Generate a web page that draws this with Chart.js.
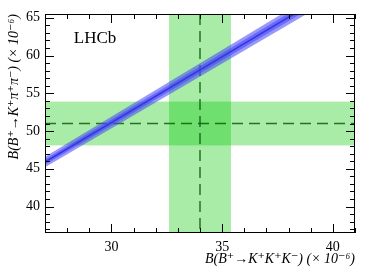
<!DOCTYPE html>
<html lang="en">
<head>
<meta charset="UTF-8" />
<title>LHCb - B+ branching fractions</title>
<script src="https://cdn.jsdelivr.net/npm/chart.js"></script>
<style>
  html, body { margin: 0; padding: 0; background: #fff; }
</style>
</head>
<body>
<canvas id="chart" width="374" height="268"></canvas>
<script>
// values in units of 10^-6
const kkk = [34.0, 1.4];              // B(B+ -> K+K+K-): value, error
const kpipi = [51.0, 2.9];            // B(B+ -> K+pi+pi-): value, error
const xRange = [27, 41];
const yRange = [36.5, 65.5];
const lineY = [45.9, 70.3];           // ratio constraint at the two ends of the x range
const bandErr = [0.008, 0.015];       // relative width: inner band, outer band
const xTicks = [30, 35, 40];
const yTicks = [40, 45, 50, 55, 60, 65];
const label = 'LHCb';
const labelAt = [28.3, 61.7];

const serif = "'Liberation Serif', 'DejaVu Serif', serif";

function ratioLine(scale) {
  return xRange.map((x, i) => ({ x: x, y: lineY[i] * scale }));
}

const bands = {
  id: 'bands',
  beforeDatasetsDraw(chart) {
    const { ctx, chartArea: a, scales: { x, y } } = chart;
    ctx.save();
    ctx.beginPath();
    ctx.rect(a.left, a.top, a.right - a.left, a.bottom - a.top);
    ctx.clip();
    ctx.fillStyle = 'rgba(0, 200, 0, 0.34)';
    // vertical band: K+K+K-
    const x0 = x.getPixelForValue(kkk[0] - kkk[1]);
    const x1 = x.getPixelForValue(kkk[0] + kkk[1]);
    ctx.fillRect(x0, a.top, x1 - x0, a.bottom - a.top);
    // horizontal band: K+pi+pi-
    const y0 = y.getPixelForValue(kpipi[0] + kpipi[1]);
    const y1 = y.getPixelForValue(kpipi[0] - kpipi[1]);
    ctx.fillRect(a.left, y0, a.right - a.left, y1 - y0);
    // central values, dashed
    ctx.strokeStyle = 'rgba(10, 95, 10, 0.85)';
    ctx.lineWidth = 1.5;
    ctx.setLineDash([11, 6]);
    const xc = x.getPixelForValue(kkk[0]);
    ctx.beginPath();
    ctx.moveTo(xc, a.top);
    ctx.lineTo(xc, a.bottom);
    ctx.stroke();
    const yc = y.getPixelForValue(kpipi[0]);
    ctx.beginPath();
    ctx.moveTo(a.left, yc);
    ctx.lineTo(a.right, yc);
    ctx.stroke();
    ctx.restore();
  }
};

const frame = {
  id: 'frame',
  afterDraw(chart) {
    const { ctx, chartArea: a, scales: { x, y } } = chart;
    ctx.save();
    ctx.strokeStyle = '#000';
    ctx.lineWidth = 1;
    ctx.strokeRect(a.left + 0.5, a.top + 0.5, a.right - a.left - 1, a.bottom - a.top - 1);
    ctx.beginPath();
    for (let v = Math.ceil(xRange[0]); v <= xRange[1]; v++) {
      const len = xTicks.includes(v) ? 9 : 5;
      const px = Math.round(x.getPixelForValue(v)) + 0.5;
      ctx.moveTo(px, a.bottom); ctx.lineTo(px, a.bottom - len);
      ctx.moveTo(px, a.top); ctx.lineTo(px, a.top + len);
    }
    for (let v = Math.ceil(yRange[0]); v <= yRange[1]; v++) {
      const len = yTicks.includes(v) ? 9 : 5;
      const py = Math.round(y.getPixelForValue(v)) + 0.5;
      ctx.moveTo(a.left, py); ctx.lineTo(a.left + len, py);
      ctx.moveTo(a.right, py); ctx.lineTo(a.right - len, py);
    }
    ctx.stroke();
    ctx.fillStyle = '#000';
    ctx.font = '17px ' + serif;
    ctx.textBaseline = 'alphabetic';
    ctx.fillText(label, x.getPixelForValue(labelAt[0]), y.getPixelForValue(labelAt[1]));
    ctx.restore();
  }
};

const bandColor = 'rgba(70, 70, 250, 0.55)';

new Chart(document.getElementById('chart'), {
  type: 'line',
  data: {
    datasets: [
      { data: ratioLine(1 + bandErr[1]), borderWidth: 0, backgroundColor: bandColor, fill: '+1' },
      { data: ratioLine(1 - bandErr[1]), borderWidth: 0, fill: false },
      { data: ratioLine(1 + bandErr[0]), borderWidth: 0, backgroundColor: bandColor, fill: '+1' },
      { data: ratioLine(1 - bandErr[0]), borderWidth: 0, fill: false },
      { data: ratioLine(1), borderWidth: 1.6, borderColor: '#00007a', fill: false }
    ]
  },
  options: {
    responsive: false,
    animation: false,
    events: [],
    elements: { point: { radius: 0 } },
    layout: { padding: { top: 14, right: 19, left: 0, bottom: 0 } },
    plugins: { legend: { display: false }, tooltip: { enabled: false } },
    scales: {
      x: {
        type: 'linear',
        min: xRange[0],
        max: xRange[1],
        grid: { display: false, drawTicks: false },
        border: { display: false },
        afterBuildTicks: s => { s.ticks = xTicks.map(v => ({ value: v })); },
        afterFit: s => { s.height = 35; },
        ticks: { color: '#000', padding: 6, font: { family: serif, size: 14 } },
        title: {
          display: true,
          text: 'B(B⁺→K⁺K⁺K⁻) (× 10⁻⁶)',
          align: 'end',
          color: '#000',
          padding: { top: 0, bottom: 0 },
          font: { family: serif, size: 14, style: 'italic' }
        }
      },
      y: {
        type: 'linear',
        min: yRange[0],
        max: yRange[1],
        grid: { display: false, drawTicks: false },
        border: { display: false },
        afterBuildTicks: s => { s.ticks = yTicks.map(v => ({ value: v })); },
        afterFit: s => { s.width = 45; },
        ticks: { color: '#000', padding: 5, font: { family: serif, size: 14 } },
        title: {
          display: true,
          text: 'B(B⁺→K⁺π⁺π⁻) (× 10⁻⁶)',
          align: 'end',
          color: '#000',
          padding: { top: 6, bottom: 0 },
          font: { family: serif, size: 14, style: 'italic' }
        }
      }
    }
  },
  plugins: [bands, frame]
});
</script>
</body>
</html>
